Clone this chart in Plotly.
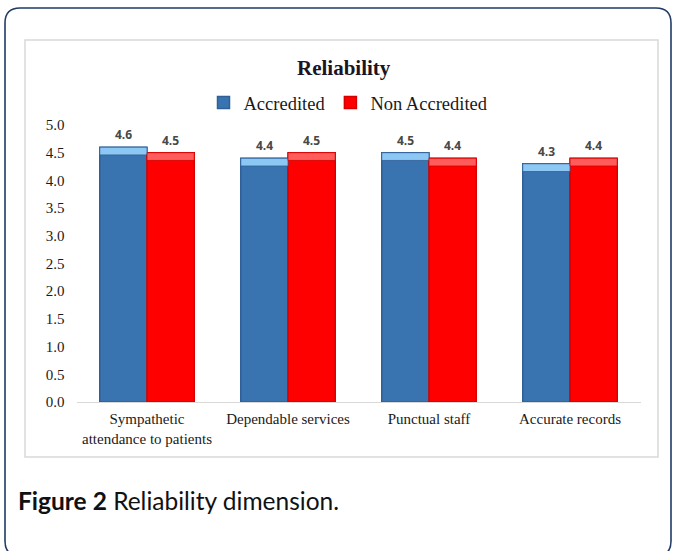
import plotly.graph_objects as go

# Reliability scores per service item
categories = ["Sympathetic<br>attendance to patients", "Dependable services",
              "Punctual staff", "Accurate records"]
accredited = [4.6, 4.4, 4.5, 4.3]
non_accredited = [4.5, 4.5, 4.4, 4.4]
y_ticks = [0.0, 0.5, 1.0, 1.5, 2.0, 2.5, 3.0, 3.5, 4.0, 4.5, 5.0]

W, H = 673, 551
SERIF = "Liberation Serif, Times New Roman, serif"
LABEL_FONT = dict(family="Open Sans, Arial, sans-serif", size=12, color="#484848", weight="bold")
BAR_GAP = 0.33
CAP = 0.14  # depth of the lighter bevel strip on top of each bar, in axis units

X_DOMAIN_PX = (76.5, 640.5)


def px_x(v):
    return v / W


def px_y(v):
    return 1 - v / H


series = [
    dict(name="Accredited", values=accredited, color="#3A74B0", edge="#2E6097",
         cap="#8DC8F5", group="acc"),
    dict(name="Non Accredited", values=non_accredited, color="#FF0000", edge="#D60000",
         cap="#FF5C5C", group="non"),
]

fig = go.Figure()
for s in series:
    fig.add_trace(go.Bar(
        name=s["name"], x=categories, y=s["values"], offsetgroup=s["group"],
        marker=dict(color=s["color"], line=dict(color=s["edge"], width=1.5)),
    ))
for s in series:
    # bevelled top face of each bar
    fig.add_trace(go.Bar(
        name=s["name"] + " top", x=categories, y=[CAP] * len(s["values"]),
        base=[v - CAP for v in s["values"]], offsetgroup=s["group"], showlegend=False,
        marker=dict(color=s["cap"], line=dict(color=s["edge"], width=0.8)), hoverinfo="skip",
    ))

# value labels centred over each bar of a group
slot_px = (X_DOMAIN_PX[1] - X_DOMAIN_PX[0]) / len(categories)
bar_px = slot_px * (1 - BAR_GAP) / len(series)
annotations = []
for i, s in enumerate(series):
    shift = (i - (len(series) - 1) / 2) * bar_px
    for cat, v in zip(categories, s["values"]):
        annotations.append(dict(
            x=cat, y=v, xref="x", yref="y", text=f"{v:.1f}", showarrow=False,
            xshift=shift, yshift=2, yanchor="bottom", font=LABEL_FONT,
        ))

annotations += [
    dict(text="<b>Reliability</b>", x=px_x(344), y=px_y(68), xref="paper", yref="paper",
         xanchor="center", yanchor="middle", showarrow=False,
         font=dict(family=SERIF, size=21, color="#1a1424")),
    dict(text="<b>Figure 2</b> Reliability dimension.", x=px_x(16), y=px_y(500),
         xref="paper", yref="paper", xanchor="left", yanchor="middle", showarrow=False,
         font=dict(family="Lato, Open Sans, sans-serif", size=24.5, color="#111111")),
]

# rounded outer frame and light chart box
fx0, fy0, fx1, fy1, r = 5, 8, 671, 556, 15
frame_path = (
    f"M {px_x(fx0)},{px_y(fy0 + r)} Q {px_x(fx0)},{px_y(fy0)} {px_x(fx0 + r)},{px_y(fy0)} "
    f"L {px_x(fx1 - r)},{px_y(fy0)} Q {px_x(fx1)},{px_y(fy0)} {px_x(fx1)},{px_y(fy0 + r)} "
    f"L {px_x(fx1)},{px_y(fy1 - r)} Q {px_x(fx1)},{px_y(fy1)} {px_x(fx1 - r)},{px_y(fy1)} "
    f"L {px_x(fx0 + r)},{px_y(fy1)} Q {px_x(fx0)},{px_y(fy1)} {px_x(fx0)},{px_y(fy1 - r)} Z"
)

fig.update_layout(
    width=W, height=H,
    margin=dict(l=0, r=0, t=0, b=0, autoexpand=False),
    paper_bgcolor="white", plot_bgcolor="white",
    barmode="group", bargap=BAR_GAP, bargroupgap=0,
    showlegend=True,
    legend=dict(orientation="h", x=px_x(348.5), y=px_y(103), xanchor="center", yanchor="middle",
                font=dict(family=SERIF, size=18.5, color="#1a1a1a"),
                itemwidth=30, traceorder="normal", bgcolor="rgba(0,0,0,0)"),
    xaxis=dict(domain=[px_x(X_DOMAIN_PX[0]), px_x(X_DOMAIN_PX[1])], showgrid=False,
               zeroline=False, showline=True, linecolor="#D9D9D9", linewidth=1,
               automargin=False, ticks="outside", ticklen=3, tickcolor="rgba(0,0,0,0)",
               tickfont=dict(family=SERIF, size=15, color="#1a1a1a")),
    yaxis=dict(domain=[px_y(402), px_y(125)], range=[0, 5], tickvals=y_ticks,
               tickformat=".1f", showgrid=False, zeroline=False, showline=False,
               automargin=False, ticks="outside", ticklen=8, tickcolor="rgba(0,0,0,0)",
               tickfont=dict(family=SERIF, size=15, color="#1a1a1a")),
    annotations=annotations,
    shapes=[
        dict(type="path", xref="paper", yref="paper", path=frame_path,
             line=dict(color="#1F3B66", width=1.6)),
        dict(type="rect", xref="paper", yref="paper",
             x0=px_x(25), x1=px_x(658), y0=px_y(457), y1=px_y(40),
             line=dict(color="#D9D9D9", width=1.5)),
    ],
)

fig.write_html("out.html")
